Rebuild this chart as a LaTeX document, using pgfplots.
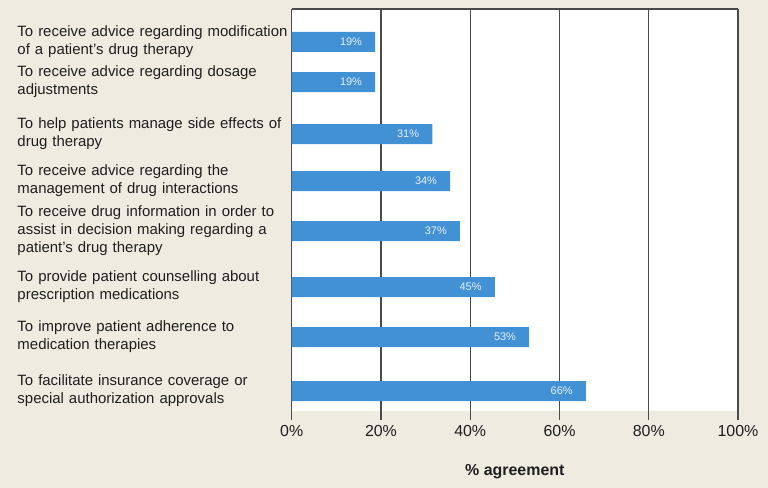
\documentclass[border=0pt]{standalone}
\usepackage{pgfplots}
\pgfplotsset{compat=1.18}
\usepackage{pgfplotstable}
\usepackage{fontspec}
\setmainfont{Liberation Sans}
\definecolor{bg}{HTML}{EFEBE1}
\definecolor{barc}{HTML}{4391D5}
\definecolor{gridc}{HTML}{4A4A4A}
\definecolor{txt}{HTML}{1E1E1E}
\definecolor{lbl}{HTML}{E8F1FA}
\pgfplotstableread{
val pos lab
18.7 42 19
18.7 82 19
31.5 134 31
35.5 181 34
37.7 231 37
45.5 287 45
53.2 337 53
65.9 391 66
}\datatab
\begin{document}
\begin{tikzpicture}
\path[use as bounding box, fill=bg] (0,0) rectangle (768bp,488bp);
\begin{axis}[
  at={(291.7bp,77bp)}, anchor=south west,
  scale only axis, width=446.3bp, height=402bp,
  xmin=0, xmax=100, ymin=9, ymax=411, y dir=reverse,
  axis background/.style={fill=white},
  axis line style={draw=none},
  xtick={0,20,40,60,80,100},
  xticklabels={0\%,20\%,40\%,60\%,80\%,100\%},
  xtick pos=bottom,
  tick align=outside,
  major tick length=9bp,
  x tick style={draw=gridc, line width=1.3bp},
  xmajorgrids, grid style={draw=gridc, line width=1.3bp},
  xticklabel style={font=\fontsize{16}{19}\selectfont, text=txt, inner sep=0pt, yshift=-5.5bp},
  ytick={42,82,134,181,231,287,337,391},
  yticklabels={
    To receive advice regarding modification\\of a patient’s drug therapy,
    To receive advice regarding dosage\\adjustments,
    To help patients manage side effects of\\drug therapy,
    To receive advice regarding the\\management of drug interactions,
    To receive drug information in order to\\assist in decision making regarding a\\patient’s drug therapy,
    To provide patient counselling about\\prescription medications,
    To improve patient adherence to\\medication therapies,
    To facilitate insurance coverage or\\special authorization approvals},
  y tick style={draw=none},
  yticklabel style={font=\fontsize{15}{18}\selectfont, text=txt, text width=275bp, align=left, anchor=east, inner sep=0pt, xshift=10bp},
  xlabel={\% agreement},
  xlabel style={font=\bfseries\fontsize{16}{19}\selectfont, text=txt, at={(axis description cs:0.5,-0.152)}, anchor=center, inner sep=0pt},
  clip=false,
]
\addplot[xbar, bar width=20, fill=barc, draw=none,
  point meta=explicit symbolic,
  nodes near coords={\pgfplotspointmeta\%},
  every node near coord/.style={anchor=east, xshift=-13bp, inner sep=0pt, text=lbl, font=\fontsize{11}{13}\selectfont}]
  table[x=val, y=pos, meta=lab] {\datatab};
\draw[gridc, line width=1.3bp] (axis description cs:0,1) -- (axis description cs:1,1);
\end{axis}
\end{tikzpicture}
\end{document}
